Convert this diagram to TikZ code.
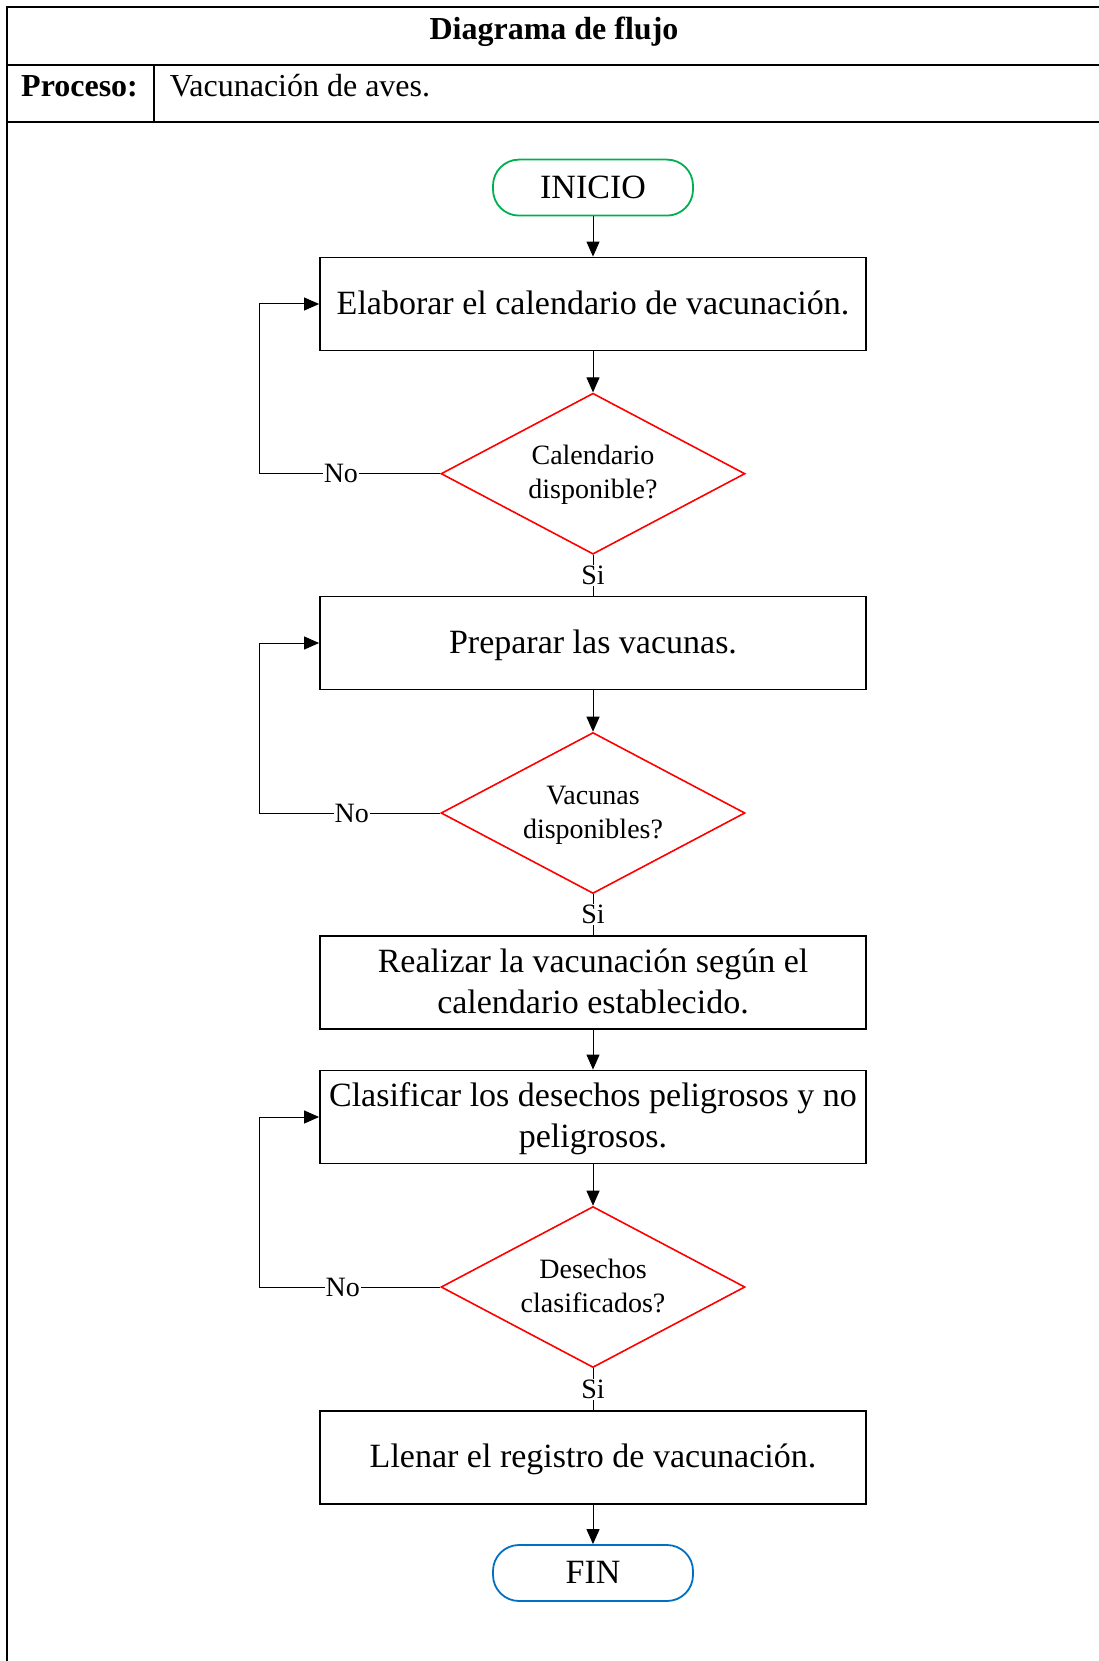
\documentclass[tikz,border=0pt]{standalone}
\usepackage{fontspec}
\setmainfont{Liberation Serif}
\usetikzlibrary{shapes.geometric,arrows.meta}
\definecolor{igreen}{RGB}{0,176,80}
\definecolor{iblue}{RGB}{0,112,192}
\newcommand\myStrut{\rule[-7pt]{0pt}{35pt}}
\newcommand\dStrut{\rule[-6pt]{0pt}{28pt}}
\begin{document}
\begin{tikzpicture}[x=1pt,y=-1pt,
 procbox/.style={draw,line width=1.8pt,minimum width=546pt,minimum height=93pt,inner sep=0pt,align=center,font=\fontsize{34}{41}\selectfont},
 decis/.style={draw=red,line width=1.6pt,diamond,aspect=1.888,minimum width=304pt,minimum height=161pt,inner sep=0pt,align=center,font=\fontsize{28}{34}\selectfont},
 term/.style={draw,line width=1.8pt,rounded corners=26pt,minimum width=200pt,minimum height=56pt,inner sep=0pt,font=\fontsize{34}{41}\selectfont},
 conn/.style={line width=1pt},
 arr/.style={conn,-{Triangle[length=15pt,width=13pt]}},
 lbl/.style={fill=white,inner sep=1pt,font=\fontsize{28}{34}\selectfont},
 tline/.style={line width=2pt},
 hdr/.style={inner sep=0pt,font=\fontsize{32}{38}\selectfont}]
\useasboundingbox (0,0) rectangle (1099,1661);
\fill[white] (0,0) rectangle (1099,1661);
% table
\draw[tline] (6.4,7.4) -- (1099,7.4);
\draw[tline] (7.4,64.6) -- (1099,64.6);
\draw[tline] (7.4,121.9) -- (1099,121.9);
\draw[tline] (7.4,6.4) -- (7.4,1661);
\draw[tline] (153.7,64.6) -- (153.7,121.9);
\node[hdr,font=\bfseries\fontsize{32}{38}\selectfont,anchor=base] (title) at (554,40) {Diagrama de flujo};
\node[hdr,font=\bfseries\fontsize{32}{38}\selectfont,anchor=base west] (proc) at (21,97) {Proceso:};
\node[hdr,anchor=base west] (procval) at (169.6,97) {Vacunación de aves.};
% flow
\node[term,draw=igreen] (ini) at (593,187.6) {\myStrut INICIO};
\node[procbox] (b1) at (593,304) {\myStrut Elaborar el calendario de vacunación.};
\node[decis] (d1) at (593,473.7) {\dStrut Calendario\\disponible?\dStrut};
\node[procbox] (b2) at (593,643) {\myStrut Preparar las vacunas.};
\node[decis] (d2) at (593,813) {\dStrut Vacunas\\disponibles?\dStrut};
\node[procbox] (b3) at (593,982.5) {\myStrut Realizar la vacunación según el\\calendario establecido.\myStrut};
\node[procbox] (b4) at (593,1117) {\myStrut Clasificar los desechos peligrosos y no\\peligrosos.\myStrut};
\node[decis] (d3) at (593,1287) {\dStrut Desechos\\clasificados?\dStrut};
\node[procbox] (b5) at (593,1457.5) {\myStrut Llenar el registro de vacunación.};
\node[term,draw=iblue] (fin) at (593,1573) {\myStrut FIN};
\coordinate (lx) at (259.6,0);
% connectors
\draw[arr] (ini) -- (b1);
\draw[arr] (b1) -- (d1);
\draw[conn] (d1) -- node[lbl]{Si} (b2);
\draw[arr] (b2) -- (d2);
\draw[conn] (d2) -- node[lbl]{Si} (b3);
\draw[arr] (b3) -- (b4);
\draw[arr] (b4) -- (d3);
\draw[conn] (d3) -- node[lbl]{Si} (b5);
\draw[arr] (b5) -- (fin);
\draw[arr] (d1.west) -- node[lbl,pos=0.55]{No} (d1.west -| lx) |- (b1.west);
\draw[arr] (d2.west) -- node[lbl,pos=0.49]{No} (d2.west -| lx) |- (b2.west);
\draw[arr] (d3.west) -- node[lbl,pos=0.54]{No} (d3.west -| lx) |- (b4.west);
\end{tikzpicture}
\end{document}
